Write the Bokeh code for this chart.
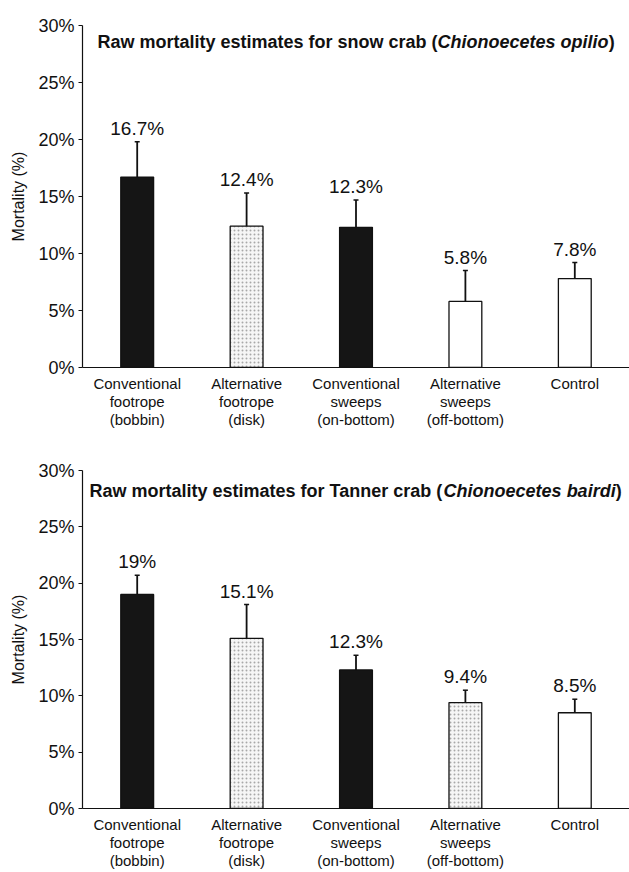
from bokeh.plotting import figure
from bokeh.models import (ColumnDataSource, Range1d, FixedTicker, PrintfTickFormatter,
                          Label, Whisker, TeeHead, FactorRange)
from bokeh.layouts import column
from bokeh.embed import file_html
from bokeh.resources import INLINE
from bokeh.core.properties import value

# ---------------- data ----------------
categories = ["Conventional\nfootrope\n(bobbin)", "Alternative\nfootrope\n(disk)",
              "Conventional\nsweeps\n(on-bottom)", "Alternative\nsweeps\n(off-bottom)", "Control"]
snow_mortality = [16.7, 12.4, 12.3, 5.8, 7.8]
snow_error = [3.1, 2.9, 2.4, 2.7, 1.4]
snow_labels = ["16.7%", "12.4%", "12.3%", "5.8%", "7.8%"]
tanner_mortality = [19.0, 15.1, 12.3, 9.4, 8.5]
tanner_error = [1.7, 3.0, 1.3, 1.1, 1.2]
tanner_labels = ["19%", "15.1%", "12.3%", "9.4%", "8.5%"]
y_ticks = [0, 5, 10, 15, 20, 25, 30]

snow_title = ("Raw mortality estimates for snow crab (", "Chionoecetes opilio", ")")
tanner_title = ("Raw mortality estimates for Tanner crab (", "Chionoecetes bairdi", ")")

# ---------------- styles ----------------
DARK = "#151515"
LIGHT = "#f6f6f6"
snow_fill = [DARK, LIGHT, DARK, "white", "white"]
snow_hatch = [" ", ".", " ", " ", " "]
tanner_fill = [DARK, LIGHT, DARK, LIGHT, "white"]
tanner_hatch = [" ", ".", " ", ".", " "]
FONT = "Liberation Sans"

# Helvetica-Bold advance widths (per 1000 em), for placing the italic part of titles
W = {' ': 278, '(': 333, ')': 333, 'R': 722, 'T': 611, 'C': 722, 'a': 556, 'b': 611, 'c': 556,
     'd': 611, 'e': 556, 'f': 333, 'h': 611, 'i': 278, 'l': 278, 'm': 889, 'n': 611, 'o': 611,
     'p': 611, 'r': 389, 's': 556, 't': 333, 'w': 778, 'y': 556}


def text_width(s, size):
    return sum(W.get(ch, 556) for ch in s) * size / 1000.0


def make_chart(values, errors, labels, fills, hatches, title_parts, height, b_top, b_bottom, title_dx, title_dy):
    src = ColumnDataSource(dict(
        cat=categories, val=values,
        upper=[v + e for v, e in zip(values, errors)],
        lower=[v - e for v, e in zip(values, errors)],
        label=labels, fill=fills, hatch=hatches))

    p = figure(x_range=FactorRange(factors=categories, range_padding=0, factor_padding=0),
               y_range=Range1d(0, 30), width=629, height=height,
               output_backend="svg", toolbar_location=None,
               min_border_left=82, min_border_right=0,
               min_border_top=b_top, min_border_bottom=b_bottom)
    p.outline_line_color = None
    p.xgrid.visible = False
    p.ygrid.visible = False
    p.background_fill_color = "white"

    p.vbar(x="cat", top="val", width=0.3, source=src, fill_color="fill",
           hatch_pattern="hatch", hatch_color="#a8a8a8", hatch_scale=4, hatch_weight=1,
           line_color="#111111", line_width=1.3)

    wh = Whisker(source=src, base="cat", upper="upper", lower="lower",
                 line_color="#111111", line_width=1.8,
                 upper_head=TeeHead(size=5, line_width=1.5, line_color="#111111"),
                 lower_head=TeeHead(size=5, line_width=1.5, line_color="#111111"))
    p.add_layout(wh)

    p.text(x="cat", y="upper", text="label", source=src, text_align="center",
           text_baseline="bottom", y_offset=-3, text_font=value(FONT),
           text_font_size="19px", text_color="#111111")

    # y axis
    ya = p.yaxis[0]
    ya.ticker = FixedTicker(ticks=y_ticks)
    ya.formatter = PrintfTickFormatter(format="%d%%")
    ya.major_label_text_font = FONT
    ya.major_label_text_font_size = "18px"
    ya.major_label_text_color = "#111111"
    ya.major_tick_out = 4
    ya.major_tick_in = 0
    ya.minor_tick_line_color = None
    ya.axis_line_width = 1.2
    ya.axis_line_color = "#111111"
    ya.major_tick_line_color = "#111111"
    ya.major_label_standoff = 4
    ya.axis_label = "Mortality (%)"
    ya.axis_label_text_font = FONT
    ya.axis_label_text_font_size = "16px"
    ya.axis_label_text_font_style = "normal"
    ya.axis_label_text_color = "#111111"
    ya.axis_label_standoff = 8

    # x axis
    xa = p.xaxis[0]
    xa.major_tick_line_color = None
    xa.minor_tick_line_color = None
    xa.axis_line_width = 1.2
    xa.axis_line_color = "#111111"
    xa.major_label_text_font = FONT
    xa.major_label_text_font_size = "15px"
    xa.major_label_text_line_height = 1.08
    xa.major_label_text_color = "#111111"
    xa.major_label_standoff = 1

    # title inside the frame, mixed bold / bold-italic
    size = 18
    w0 = text_width(title_parts[0], size)
    w1 = text_width(title_parts[1], size)
    common = dict(x=0, y=30, x_units="data", y_units="data", y_offset=-title_dy,
                  text_font=FONT, text_font_size=f"{size}px", text_color="#111111",
                  text_baseline="alphabetic", text_align="left")
    p.add_layout(Label(text=title_parts[0], x_offset=title_dx, text_font_style="bold", **common))
    p.add_layout(Label(text=title_parts[1], x_offset=title_dx + w0, text_font_style="bold italic", **common))
    p.add_layout(Label(text=title_parts[2], x_offset=title_dx + w0 + w1, text_font_style="bold", **common))
    return p


p1 = make_chart(snow_mortality, snow_error, snow_labels, snow_fill, snow_hatch, snow_title,
                height=440, b_top=25, b_bottom=73, title_dx=15, title_dy=16)
p2 = make_chart(tanner_mortality, tanner_error, tanner_labels, tanner_fill, tanner_hatch, tanner_title,
                height=432, b_top=30, b_bottom=58, title_dx=7, title_dy=20)

layout = column(p1, p2, spacing=0)
open("out.html", "w").write(file_html(layout, INLINE))
